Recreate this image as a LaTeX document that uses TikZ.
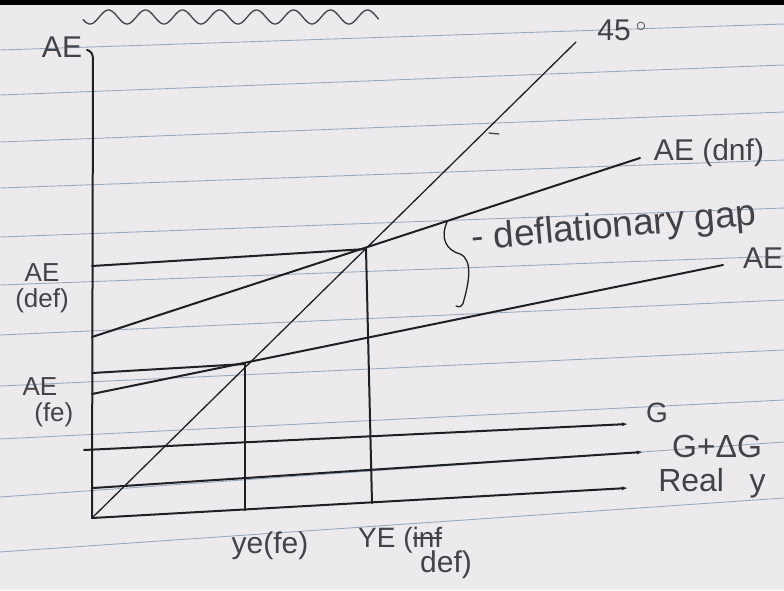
\documentclass[tikz,border=0pt]{standalone}
\usepackage{fontspec}
\setmainfont{Liberation Sans}
\usetikzlibrary{arrows.meta}
\definecolor{paper}{RGB}{236,234,236}
\definecolor{rulec}{RGB}{152,170,194}
\definecolor{inkc}{RGB}{32,32,36}
\definecolor{pencil}{RGB}{66,66,72}
\newcommand{\scrawl}[1]{\setbox0\hbox{#1}\rlap{\rule[0.3em]{\wd0}{1.4pt}}\box0}

\begin{document}
\begin{tikzpicture}[x=1pt,y=-1pt,>={Latex[length=6pt,width=4pt]},
 ink/.style={draw=inkc,line width=2pt,line cap=round},
 fine/.style={draw=inkc,line width=1.3pt,line cap=round},
 rule/.style={draw=rulec,line width=0.9pt},
 lbl/.style={text=pencil,inner sep=0pt,font=\fontsize{#1}{#1}\selectfont},lbl/.default=28]
\useasboundingbox (0,0) rectangle (784,590);
\fill[paper] (0,0) rectangle (784,590);
\fill[black] (0,0) rectangle (784,5);
% ruled paper
\foreach \l/\r in {50/24,95/65,142/112,188/160,237/208,285/256,335/300,386/350,439/400,497/442,552/498}
 \draw[rule] (0,\l) -- (784,\r);
% doodle at the top
\draw[fine,draw=pencil] plot[domain=-0.19:7.8,samples=240] ({90+37*\x},{17+7*cos(360*\x)});

% points of the diagram
\coordinate (O) at (92,518);
\coordinate (hook) at (87,50);
\coordinate (ytop) at (93,58);
\coordinate (t45) at (576,42);
\coordinate (dnf0) at (92,337);
\coordinate (dnf1) at (640,158);
\coordinate (ae0) at (92,394);
\coordinate (ae1) at (723,265);
\coordinate (Edef) at (366,249);
\coordinate (Efe) at (245,364);
\coordinate (def0) at (92,266);
\coordinate (fe0) at (92,373);
\coordinate (xdef) at (372,503);
\coordinate (xfe) at (245,510);
\coordinate (g0) at (84,450);
\coordinate (g1) at (628,424);
\coordinate (dg0) at (93,488);
\coordinate (dg1) at (643,452);
\coordinate (xend) at (628,488);
\coordinate (gapT) at (447,222);

% axes and schedules
\draw[ink] (hook) to[out=-10,in=95] (ytop) -- (O);
\draw[ink,->] (O) -- (xend);
\draw[fine] (O) -- (t45);
\draw[ink] (dnf0) -- (dnf1);
\draw[ink] (ae0) -- (ae1);
\draw[ink] (def0) -- (Edef);
\draw[ink] (fe0) -- (Efe);
\draw[ink] (Efe) -- (xfe);
\draw[ink] (Edef) -- (xdef);
\draw[ink,->] (g0) -- (g1);
\draw[ink,->] (dg0) -- (dg1);
\draw[fine,draw=pencil] (489,133) -- (499,134);
% the gap brace
\draw[fine] (gapT) .. controls (440,238) and (446,250) .. (460,254)
 .. controls (474,260) and (468,285) .. (464,300) .. controls (463,306) and (460,308) .. (456,306);

% labels
\node[lbl=30] (lAEy) at (62,47) {AE};
\node[lbl=30] (l45) at (622,30) {45\,$^{\circ}$};
\node[lbl=30] (lDnf) at (709,153) {AE (dnf)};
\node[lbl=37,rotate=5] (lGap) at (614,228) {- deflationary gap};
\node[lbl=30] (lAE) at (763,258) {AE};
\node[lbl=26,align=center] (lDef) at (42,288) {AE\\(def)};
\node[lbl=26,align=left] (lFe) at (48,402) {AE\\\hspace{0.45em}(fe)};
\node[lbl=28] (lG) at (657,413) {G};
\node[lbl=32] (lDG) at (717,446) {G+ΔG};
\node[lbl=32] (lY) at (712,483) {Real\hspace{0.8em}y};
\node[lbl=30] (lYfe) at (270,546) {ye(fe)};
\node[lbl=28,anchor=west] (lYdef) at (358,540) {YE (\scrawl{inf}};
\node[lbl=30,anchor=west] (lYdef2) at (420,565) {def)};
\end{tikzpicture}
\end{document}
